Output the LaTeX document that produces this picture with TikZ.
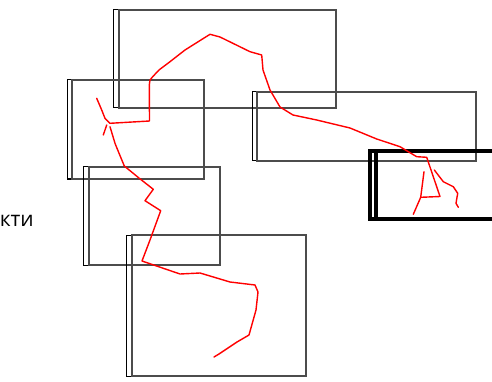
\documentclass[tikz,border=0pt]{standalone}
\usepackage{fontspec}
\setsansfont{Open Sans}
\tikzset{
  frame/.style={draw=black, line width=1pt},
  shadow frame/.style={draw=black!70, line width=1.8pt},
  heavy frame/.style={draw=black, line width=3.5pt},
  scribble/.style={red, line width=1.4pt, line join=round, line cap=round},
}
\begin{document}
\begin{tikzpicture}[x=1pt,y=-1pt]
  \useasboundingbox (0,0) rectangle (492,382);
  % top box
  \draw[frame] (113,10) rectangle (336,108);
  \draw[shadow frame] (119,10) rectangle (336,108);
  % left box
  \draw[frame] (67,80) rectangle (204,179);
  \draw[shadow frame] (72,80) rectangle (204,179);
  % middle box
  \draw[frame] (83,167) rectangle (220,265);
  \draw[shadow frame] (89,167) rectangle (220,265);
  % bottom box
  \draw[frame] (126,235) rectangle (306,376);
  \draw[shadow frame] (132,235) rectangle (306,376);
  % right box
  \draw[frame] (252,92) rectangle (476,161);
  \draw[shadow frame] (257,92) rectangle (476,161);
  % selected box
  \draw[heavy frame] (370,151) rectangle (500,219);
  \draw[heavy frame] (376,151) rectangle (500,219);
  % strokes
  \draw[scribble] (214,357) -- (219,354) -- (237,342) -- (249,335) -- (256,310)
    -- (258,292) -- (255,285) -- (230,282) -- (200,273) -- (180,274) -- (142,261)
    -- (150,240) -- (160.7,210.7) -- (145,200.7) -- (153.3,189.3) -- (139.3,178.3)
    -- (124.3,166) -- (117.7,150) -- (115,143.3) -- (110,126.7);
  \draw[scribble] (96.7,98.3) -- (101.7,110) -- (105,118.3) -- (110,123.3)
    -- (149.5,121) -- (149.3,85) -- (150,80) -- (152.7,76.7) -- (159,70)
    -- (170,61.7) -- (185,50) -- (210,34.3) -- (220,37) -- (250,51.7)
    -- (261.7,55) -- (263,70) -- (270,90) -- (280,107) -- (293,115)
    -- (316.7,120) -- (350,128) -- (376.7,139) -- (400,146.7) -- (408.3,151.7)
    -- (416.7,156.7) -- (426.7,157.3) -- (440,196.5) -- (420.7,197.3)
    -- (413.3,214.3);
  \draw[scribble] (106.7,125) -- (103.3,135);
  \draw[scribble] (424,171.7) -- (420.7,197.3);
  \draw[scribble] (434.3,170) -- (443.3,181.7) -- (453.3,186.7) -- (457.7,193.3)
    -- (456,203.3) -- (458.3,207.3);
  \node[font=\sffamily\fontsize{21}{25}\selectfont, anchor=base east, inner sep=0pt]
    (label) at (34,226) {кти};
\end{tikzpicture}
\end{document}
